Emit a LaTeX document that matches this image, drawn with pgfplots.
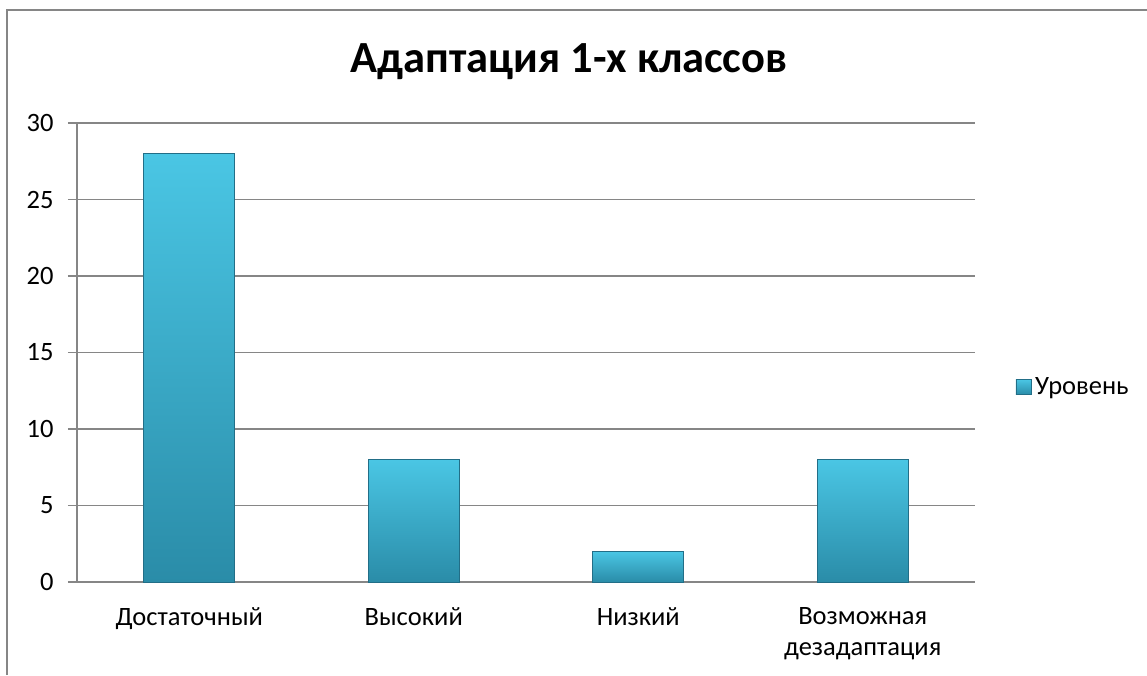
\documentclass[border=0pt]{standalone}
\usepackage{pgfplots}
\pgfplotsset{compat=1.18}
\usepackage{fontspec}
\setmainfont{Carlito}
\definecolor{gridgray}{RGB}{134,134,134}
\definecolor{bartop}{RGB}{74,198,228}
\definecolor{barbot}{RGB}{42,140,168}
\definecolor{baredge}{RGB}{34,110,135}
\pgfplotsset{mybar/.style={ybar, bar width=0.405, bar shift=0pt, draw=baredge, line width=0.6pt, top color=bartop, bottom color=barbot, mark=none}}
\begin{document}
\begin{tikzpicture}[x=1pt,y=1pt]
\useasboundingbox (0,0) rectangle (1147,675);
\draw[gridgray, line width=1.5pt] (7,0) -- (7,665) -- (1147,665);
\node[font=\fontsize{44.5}{52}\selectfont\bfseries] at (569,613) {Адаптация 1-х классов};
\begin{axis}[
  at={(77pt,93pt)}, anchor=south west,
  scale only axis, width=898pt, height=459pt,
  xmin=-0.5, xmax=3.5, ymin=0, ymax=30,
  axis lines*=left,
  axis line style={gridgray, line width=1.5pt},
  ymajorgrids, grid style={gridgray, line width=1.5pt},
  ytick={0,5,...,30},
  xtick={0,1,2,3},
  xticklabels={Достаточный,Высокий,Низкий,{Возможная\\дезадаптация}},
  minor xtick={-0.5,0.5,1.5,2.5,3.5},
  tick align=outside,
  major tick length=9pt, minor tick length=9pt,
  xtick style={draw=none},
  minor x tick style={gridgray, line width=1.5pt},
  ytick style={gridgray, line width=1.5pt},
  ticklabel style={font=\fontsize{26.5}{31}\selectfont},
  xticklabel style={align=center, yshift=-13pt},
  yticklabel style={xshift=-11pt},
  /pgf/number format/assume math mode=true,
  legend style={draw=none, at={(1.045,0.425)}, anchor=west, inner sep=0pt,
    font=\fontsize{26.5}{31}\selectfont, nodes={inner sep=4pt}},
  legend image code/.code={\draw[baredge, line width=0.6pt, top color=bartop, bottom color=barbot] (0pt,-7.5pt) rectangle (15pt,7.5pt);},
]
\addplot[mybar] coordinates {(0,28)};
\addlegendentry{Уровень}
\addplot[mybar] coordinates {(1,8)};
\addplot[mybar] coordinates {(2,2)};
\addplot[mybar] coordinates {(3,8)};
\end{axis}
\end{tikzpicture}
\end{document}
